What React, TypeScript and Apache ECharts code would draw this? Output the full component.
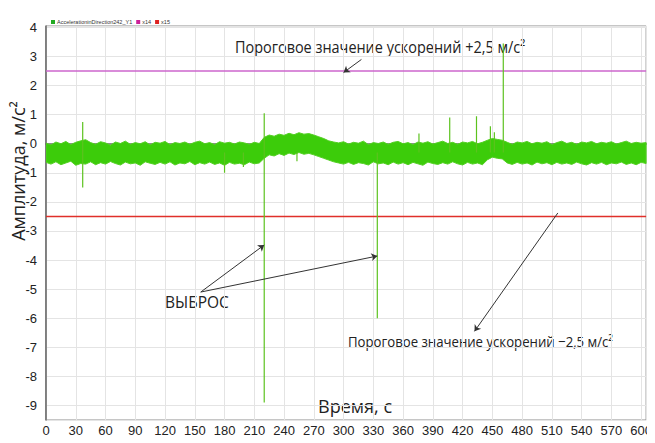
import React, { useEffect, useRef } from "react";
import * as echarts from "echarts";

// ---- data ----
const bandStep = 5;
const bandUpper = [
  0.02, -0.04, 0.06, 0.0, 0.08, -0.03, 0.05, 0.1, 0.14, 0.04,
  -0.02, 0.07, 0.03, -0.05, 0.06, 0.01, 0.09, -0.02, 0.04, 0.0,
  0.07, -0.04, 0.05, 0.02, 0.08, -0.03, 0.04, 0.01, 0.06, -0.02,
  0.05, 0.09, 0.0, 0.04, -0.03, 0.07, 0.02, 0.05, -0.01, 0.06,
  0.03, -0.02, 0.05, 0.01, 0.22, 0.3, 0.26, 0.33, 0.29, 0.36,
  0.31, 0.38, 0.33, 0.35, 0.3, 0.24, 0.18, 0.1, 0.06, 0.03,
  0.07, -0.01, 0.05, 0.02, 0.09, -0.03, 0.04, 0.01, 0.06, -0.02,
  0.05, 0.08, 0.0, 0.04, -0.03, 0.06, 0.02, 0.07, -0.01, 0.04,
  0.09, 0.01, 0.05, -0.02, 0.06, 0.03, 0.08, 0.0, 0.05, 0.12,
  0.18, 0.15, 0.12, 0.05, -0.02, 0.06, 0.03, 0.08, 0.0, 0.05,
  0.02, 0.07, -0.03, 0.04, 0.09, 0.01, 0.05, -0.02, 0.06, 0.03,
  0.08, 0.0, 0.05, 0.02, 0.07, -0.01, 0.04, 0.09, 0.01, 0.05,
  0.02, 0.04,
];
const bandLower = [
  -0.64, -0.7, -0.62, -0.72, -0.66, -0.6, -0.74, -0.68, -0.7, -0.62,
  -0.72, -0.65, -0.7, -0.61, -0.68, -0.73, -0.63, -0.69, -0.66, -0.74,
  -0.62, -0.67, -0.71, -0.64, -0.7, -0.62, -0.73, -0.66, -0.69, -0.61,
  -0.72, -0.65, -0.7, -0.63, -0.71, -0.66, -0.74, -0.64, -0.7, -0.67,
  -0.72, -0.63, -0.69, -0.66, -0.5, -0.38, -0.42, -0.34, -0.4, -0.32,
  -0.37, -0.3, -0.36, -0.33, -0.38, -0.44, -0.5, -0.56, -0.62, -0.66,
  -0.7, -0.64, -0.71, -0.65, -0.68, -0.73, -0.62, -0.69, -0.66, -0.72,
  -0.63, -0.7, -0.65, -0.72, -0.64, -0.69, -0.74, -0.63, -0.68, -0.71,
  -0.65, -0.7, -0.62, -0.69, -0.73, -0.64, -0.7, -0.66, -0.72, -0.55,
  -0.46, -0.5, -0.52, -0.66, -0.71, -0.64, -0.7, -0.66, -0.73, -0.63,
  -0.69, -0.65, -0.72, -0.64, -0.7, -0.66, -0.71, -0.63, -0.69, -0.73,
  -0.65, -0.7, -0.64, -0.72, -0.66, -0.69, -0.63, -0.71, -0.66, -0.72,
  -0.64, -0.68,
];
const spikeX = [37, 180, 199, 220, 253, 334, 376, 407, 434, 448, 452, 461];
const spikeHi = [0.75, -0.3, -0.3, 1.05, -0.3, -0.3, 0.35, 0.9, 0.95, 0.6, 0.4, 3.45];
const spikeLo = [-1.5, -1.0, -0.8, -8.9, -0.6, -6.0, -0.3, -0.3, -0.3, -0.3, -0.3, -0.3];
const thresholdUp = 2.5;
const thresholdDown = -2.5;
const xMin = 0;
const xMax = 605;
const yMin = -9.5;
const yMax = 4.05;

const seriesNames = ["AccelerationinDirection242_Y1", "x14", "x15"];

const FONT = "'Open Sans', sans-serif";
const AXFONT = "'Liberation Sans', Arial, sans-serif";

export default function App() {
  const ref = useRef<HTMLDivElement>(null);
  useEffect(() => {
    if (!ref.current) return;
    const chart = echarts.init(ref.current, undefined, { renderer: "svg" });

    const bandT = bandUpper.map((_, i) => i * bandStep);
    const spikeData: any[] = [];
    spikeX.forEach((x, i) => {
      spikeData.push([x, spikeLo[i]]);
      spikeData.push([x, spikeHi[i]]);
      spikeData.push([x, "-"]);
    });

    const green = "#3ccc0a";

    const txt = (x: number, y: number, text: string, size: number, sx: number) => ({
      type: "text",
      x,
      y,
      scaleX: sx,
      style: {
        text,
        fontSize: size,
        fontFamily: FONT,
        fill: "#222",
        textAlign: "left",
        textVerticalAlign: "middle",
      },
    });

    const option: any = {
      animation: false,
      backgroundColor: "#ffffff",
      grid: {
        left: 46,
        right: 3,
        top: 26,
        bottom: 23,
        show: true,
        borderColor: "#8c8c8c",
        borderWidth: 1,
        backgroundColor: "transparent",
      },
      legend: {
        left: 46,
        top: 14,
        icon: "rect",
        itemWidth: 4,
        itemHeight: 4,
        itemGap: 4,
        textStyle: { fontSize: 5.5, color: "#333", fontFamily: AXFONT, padding: [0, 0, 0, -3] },
        data: [
          { name: seriesNames[0], itemStyle: { color: "#22aa22" } },
          { name: seriesNames[1], itemStyle: { color: "#cc2299" } },
          { name: seriesNames[2], itemStyle: { color: "#dd2222" } },
        ],
      },
      xAxis: {
        type: "value",
        min: xMin,
        max: xMax,
        interval: 30,
        axisLine: { show: true, lineStyle: { color: "#666", width: 1.5 } },
        axisTick: { show: false },
        axisLabel: {
          fontSize: 13,
          color: "#222",
          fontFamily: AXFONT,
          margin: 4,
          formatter: (v: number) => (v % 30 === 0 ? String(v) : ""),
        },
        splitLine: { show: true, lineStyle: { color: "#e4e4e4", width: 1 } },
      },
      yAxis: {
        type: "value",
        min: yMin,
        max: yMax,
        splitNumber: 13,
        axisLine: { show: true, lineStyle: { color: "#666", width: 1.5 } },
        axisTick: { show: false },
        axisLabel: {
          fontSize: 13,
          color: "#222",
          fontFamily: AXFONT,
          margin: 9,
          formatter: (v: number) => (Number.isInteger(v) ? String(v) : ""),
        },
        splitLine: { show: true, lineStyle: { color: "#e4e4e4", width: 1 } },
      },
      series: [
        {
          type: "custom",
          name: seriesNames[0],
          clip: true,
          itemStyle: { color: green },
          data: [[0, 0]],
          renderItem: (params: any, api: any) => {
            const pts: number[][] = [];
            for (let i = 0; i < bandT.length; i++) pts.push(api.coord([bandT[i], bandUpper[i]]));
            for (let i = bandT.length - 1; i >= 0; i--) pts.push(api.coord([bandT[i], bandLower[i]]));
            return {
              type: "polygon",
              shape: { points: pts },
              style: { fill: green, stroke: "#52d022", lineWidth: 1 },
            };
          },
          z: 3,
        },
        {
          type: "line",
          name: seriesNames[0],
          data: spikeData,
          symbol: "none",
          connectNulls: false,
          lineStyle: { color: "#5cc21e", width: 1.2 },
          itemStyle: { color: green },
          z: 4,
        },
        {
          type: "line",
          name: seriesNames[1],
          data: [
            [xMin, thresholdUp],
            [xMax, thresholdUp],
          ],
          symbol: "none",
          lineStyle: { color: "#cc66cc", width: 1.5 },
          itemStyle: { color: "#cc66cc" },
          z: 2,
          markLine: {
            silent: true,
            symbol: ["none", "arrow"],
            symbolSize: 6,
            label: { show: false },
            lineStyle: { color: "#333", width: 1, type: "solid" },
            data: [
              [{ coord: [318, 2.9] }, { coord: [300, 2.45] }],
              [{ coord: [516, -2.38] }, { coord: [432, -6.45] }],
              [{ coord: [156, -5.1] }, { coord: [220, -3.48] }],
              [{ coord: [156, -5.1] }, { coord: [334, -3.86] }],
            ],
          },
        },
        {
          type: "line",
          name: seriesNames[2],
          data: [
            [xMin, thresholdDown],
            [xMax, thresholdDown],
          ],
          symbol: "none",
          lineStyle: { color: "#e0302a", width: 1.5 },
          itemStyle: { color: "#e0302a" },
          z: 2,
        },
      ],
      graphic: [
        { type: "line", shape: { x1: 3, y1: 0, x2: 3, y2: 443 }, style: { stroke: "#999", lineWidth: 1 } },
        { type: "rect", shape: { x: 0, y: 197, width: 4, height: 50 }, style: { fill: "#1a4fb0" } },
        {
          type: "text",
          x: 17,
          y: 171,
          rotation: Math.PI / 2,
          scaleX: 0.95,
          style: {
            text: "Амплитуда, м/с²",
            fontSize: 19,
            fontFamily: FONT,
            fill: "#222",
            textAlign: "center",
            textVerticalAlign: "middle",
          },
        },
        txt(235, 47, "Пороговое значение ускорений +2,5 м/с²", 17, 0.85),
        txt(348, 341, "Пороговое значение ускорений −2,5 м/с²", 15, 0.88),
        txt(165, 302, "ВЫБРОС", 16, 0.97),
        txt(318, 405, "Время, с", 19, 0.95),
        {
          type: "text",
          x: 331,
          y: 440.5,
          style: {
            text: "Time (minutes)",
            fontSize: 4.5,
            fontFamily: AXFONT,
            fill: "#777",
            textAlign: "left",
            textVerticalAlign: "middle",
          },
        },
      ],
    };
    chart.setOption(option);
    return () => chart.dispose();
  }, []);
  return <div ref={ref} style={{ width: 655, height: 443, margin: -8 }} />;
}
